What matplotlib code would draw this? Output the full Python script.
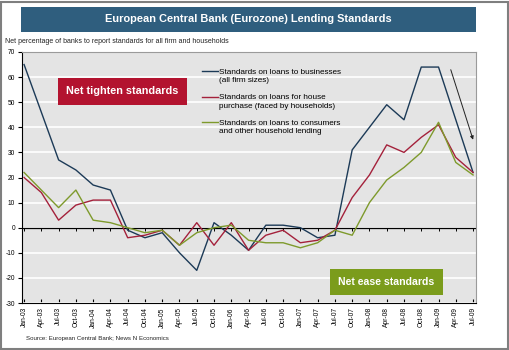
import matplotlib
matplotlib.use("Agg")
import matplotlib.pyplot as plt
from matplotlib.patches import Rectangle
from matplotlib.transforms import Affine2D
import numpy as np

plt.rcParams['font.family'] = ['Liberation Sans', 'DejaVu Sans']

quarters = ["Jan-03", "Apr-03", "Jul-03", "Oct-03", "Jan-04", "Apr-04", "Jul-04", "Oct-04",
            "Jan-05", "Apr-05", "Jul-05", "Oct-05", "Jan-06", "Apr-06", "Jul-06", "Oct-06",
            "Jan-07", "Apr-07", "Jul-07", "Oct-07", "Jan-08", "Apr-08", "Jul-08", "Oct-08",
            "Jan-09", "Apr-09", "Jul-09"]
businesses = [65, 46, 27, 23, 17, 15, -1, -4, -2, -10, -17, 2, -3, -9, 1, 1, 0, -4, -3,
              31, 40, 49, 43, 64, 64, 43, 22]
house = [20, 14, 3, 9, 11, 11, -4, -3, -1, -7, 2, -7, 2, -9, -3, -1, -6, -5, -1,
         12, 21, 33, 30, 36, 41, 28, 22]
consumer = [22, 15, 8, 15, 3, 2, 0, -2, -1, -7, -2, 0, 1, -5, -6, -6, -8, -6, -1,
            -3, 10, 19, 24, 30, 42, 26, 21]
labels = ["Standards on loans to businesses\n(all firm sizes)",
          "Standards on loans for house\npurchase (faced by households)",
          "Standards on loans to consumers\nand other household lending"]
colors = ["#1c3a57", "#a4213b", "#7e9a2c"]
yticks = [-30, -20, -10, 0, 10, 20, 30, 40, 50, 60, 70]

W, H = 510, 350
fig = plt.figure(figsize=(W / 100, H / 100), dpi=100)
fig.patch.set_facecolor("white")

# outer frame
fig.patches.append(Rectangle((1 / W, 1 / H), 1 - 3 / W, 1 - 3 / H, transform=fig.transFigure,
                             fill=False, edgecolor="#7f7f7f", linewidth=1.5))
# title banner
fig.patches.append(Rectangle((21 / W, 1 - 32 / H), 455 / W, 25 / H, transform=fig.transFigure,
                             facecolor="#2f5e7e", edgecolor="none"))
fig.text(248 / W, 1 - 19.5 / H, "European Central Bank (Eurozone) Lending Standards",
         color="white", fontsize=7.9, fontweight="bold", ha="center", va="center")
fig.text(5 / W, 1 - 41.5 / H, "Net percentage of banks to report standards for all firm and households",
         fontsize=5.0, ha="left", va="center", color="#222222")
fig.text(26 / W, 1 - 338.5 / H, "Source: European Central Bank; News N Economics",
         fontsize=4.4, ha="left", va="center", color="#222222")

ax = fig.add_axes([22 / W, 1 - 303 / H, 454 / W, 251 / H])
ax.set_facecolor("#e4e4e4")
x = np.arange(len(quarters))
for y, lab, c in zip([businesses, house, consumer], labels, colors):
    ax.plot(x, y, color=c, lw=1.0, label=lab)

ax.set_xlim(-0.12, 26.17)
ax.set_ylim(-30, 70)
ax.set_yticks(yticks)
ax.set_yticklabels([str(v) for v in yticks], fontsize=4.8)
ax.set_xticks(x)
ax.set_xticklabels(quarters, rotation=90, fontsize=4.8)
ax.tick_params(axis='y', length=3, width=0.8, pad=2)
ax.tick_params(axis='x', length=3, width=0.8, direction='in', pad=3)
ax.grid(axis='y', color="white", lw=1.2)
ax.set_axisbelow(True)
for s in ["top", "right"]:
    ax.spines[s].set_color("#9a9a9a")
    ax.spines[s].set_linewidth(0.8)
for s in ["left", "bottom"]:
    ax.spines[s].set_color("black")
    ax.spines[s].set_linewidth(0.8)
ax.axhline(0, color="black", lw=0.9, zorder=1.5)
ax.plot(x, np.zeros(len(x)), ls="none", marker=3, ms=2.5, mew=0.7, color="black", zorder=1.5)

leg = ax.legend(loc="upper left", bbox_to_anchor=((202 - 22) / 454, 1 - (69 - 52) / 251),
                frameon=False, fontsize=5.9, handlelength=1.95, handletextpad=0.12,
                labelspacing=1.2, borderaxespad=0, borderpad=0)
for t in leg.get_texts():
    t.set_linespacing(1.3)
for ln in leg.get_lines():
    ln.set_transform(ln.get_transform() + Affine2D().translate(0, 5.2))

ax.text((122.5 - 22) / 454, 1 - (91.5 - 52) / 251, "Net tighten standards", transform=ax.transAxes,
        ha="center", va="center", color="white", fontsize=7.8, fontweight="bold",
        bbox=dict(boxstyle="square,pad=0.75", facecolor="#b3132f", edgecolor="none"))
ax.text((386.5 - 22) / 454, 1 - (282 - 52) / 251, "Net ease standards", transform=ax.transAxes,
        ha="center", va="center", color="white", fontsize=7.6, fontweight="bold",
        bbox=dict(boxstyle="square,pad=0.78", facecolor="#7b9c1c", edgecolor="none"))

ax.annotate("", xy=(26.05, 34), xytext=(24.66, 64),
            arrowprops=dict(arrowstyle="-|>", color="#222222", lw=0.7, mutation_scale=5))

fig.savefig("out.png", dpi=100)
